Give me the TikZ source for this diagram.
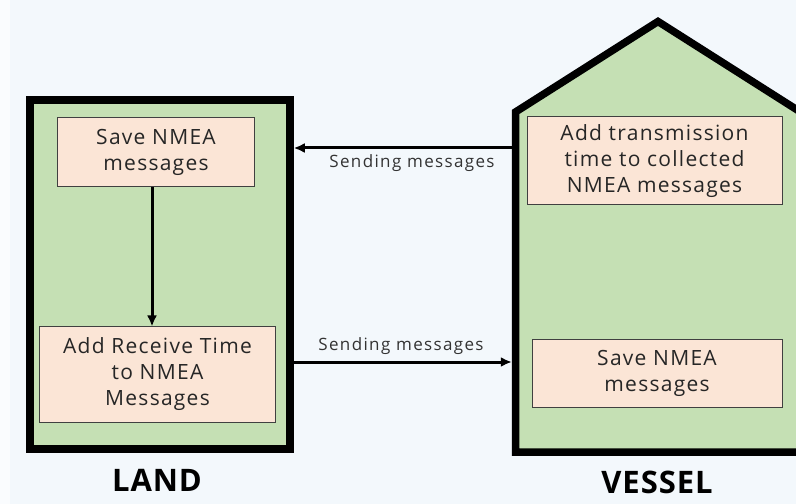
\documentclass[tikz,border=0pt]{standalone}
\usepackage{fontspec}
\setmainfont{Open Sans}[LetterSpace=6]
\newfontfamily\sitefont{Open Sans}[LetterSpace=3]
\newfontfamily\labelfont{Open Sans}[LetterSpace=8]
\usetikzlibrary{arrows.meta,calc}
\definecolor{bgcol}{HTML}{F3F8FC}
\definecolor{zonegreen}{HTML}{C5E0B4}
\definecolor{taskfill}{HTML}{FBE5D6}
\definecolor{taskline}{HTML}{404040}
\tikzset{
  zone/.style={draw=black, line width=7.5bp, fill=zonegreen},
  task/.style={draw=taskline, line width=1bp, fill=taskfill, align=center,
    inner sep=0pt, font=\fontsize{21bp}{26bp}\selectfont, text=black!85},
  flow/.style={line width=3bp, -{Latex[length=11bp,width=10bp]}},
  flowlabel/.style={font=\labelfont\fontsize{17bp}{20bp}\selectfont, text=black!80, inner sep=0pt},
  sitename/.style={font=\sitefont\bfseries\fontsize{31bp}{36bp}\selectfont, inner sep=0pt}
}
\begin{document}
\begin{tikzpicture}[x=1bp,y=-1bp]
  \useasboundingbox (0,0) rectangle (796,504);
  \fill[bgcol] (-10,-10) rectangle (806,514);
  \fill[white!60!bgcol] (-10,-10) rectangle (10,514);

  % land site
  \node[zone, minimum width=260bp, minimum height=349bp] (land) at (160,274.5) {};
  \node[task, minimum width=196bp, minimum height=69bp] (saveland) at (156,152.5)
    {Save NMEA\\messages};
  \node[task, minimum width=235bp, minimum height=95bp] (receive) at (157.5,374.5)
    {Add Receive Time\\to NMEA\\Messages};
  \node[sitename] (landname) at (157,480) {LAND};

  % vessel site (house outline, right wall runs past the page edge)
  \draw[zone, miter limit=10] (515.5,452) -- (515.5,112) -- (658,21.5) -- (806,115.5)
    -- (806,452) -- cycle;
  \coordinate (vesselsend) at (511.8,148);
  \coordinate (vesselrecv) at (511.8,362);
  \node[task, minimum width=255bp, minimum height=88bp] (transmit) at (654.5,161)
    {Add transmission\\time to collected\\NMEA messages};
  \node[task, minimum width=250bp, minimum height=68bp] (savevessel) at (657,373)
    {Save NMEA\\messages};
  \node[sitename] (vesselname) at (657,482) {VESSEL};

  % message flows
  \draw[flow] ([xshift=-4bp]saveland.south) -- ([xshift=-4bp]saveland.south |- receive.north);
  \draw[flow] (vesselsend) -- (land.east |- vesselsend);
  \draw[flow] (land.east |- vesselrecv) -- (vesselrecv);
  \node[flowlabel] (toplabel) at (412,163) {Sending messages};
  \node[flowlabel] (bottomlabel) at (401,346) {Sending messages};
\end{tikzpicture}
\end{document}
